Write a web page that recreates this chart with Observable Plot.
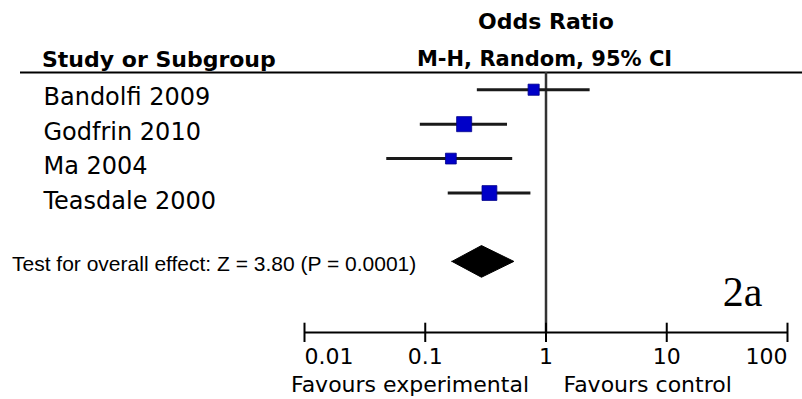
<!DOCTYPE html>
<html>
<head>
<meta charset="utf-8">
<script src="https://cdn.jsdelivr.net/npm/d3@7"></script>
<script src="https://cdn.jsdelivr.net/npm/@observablehq/plot@0.6"></script>
<style>
  html, body { margin: 0; padding: 0; background: #fff; }
  svg { display: block; }
</style>
</head>
<body>
<div id="chart"></div>
<script>
// ---- data ----
const studies = ["Bandolfi 2009", "Godfrin 2010", "Ma 2004", "Teasdale 2000"];
const oddsRatio = [0.79, 0.21, 0.163, 0.34];
const ciLower = [0.27, 0.091, 0.048, 0.155];
const ciUpper = [2.32, 0.48, 0.53, 0.75];
const weights = [18, 33, 17, 32];
const totalOR = 0.295;
const totalLower = 0.168;
const totalUpper = 0.547;
const tickValues = [0.01, 0.1, 1, 10, 100];
const tickLabels = ["0.01", "0.1", "1", "10", "100"];
const headerStudy = "Study or Subgroup";
const headerOR = "Odds Ratio";
const headerMethod = "M-H, Random, 95% CI";
const overallTest = "Test for overall effect: Z = 3.80 (P = 0.0001)";
const favoursLeft = "Favours experimental";
const favoursRight = "Favours control";
const panelLabel = "2a";

// ---- layout ----
const yTop = -0.5, yAxis = 7.05;
const totalRow = studies.length + 1;
const rows = studies.map((s, i) => ({study: s, i, or: oddsRatio[i], lo: ciLower[i], hi: ciUpper[i], w: weights[i]}));
const dh = 0.46;
const diamond = [
  {x: totalLower, y1: totalRow, y2: totalRow},
  {x: totalOR, y1: totalRow - dh, y2: totalRow + dh},
  {x: totalUpper, y1: totalRow, y2: totalRow}
];
const ticks = tickValues.map((v, i) => ({v, label: tickLabels[i], i}));
const sans = "DejaVu Sans, Verdana, sans-serif";
const mid = {lineAnchor: "middle"};

const chart = Plot.plot({
  width: 802,
  height: 399,
  marginLeft: 304,
  marginRight: 15,
  marginTop: 72,
  marginBottom: 67,
  style: {background: "#fff", color: "#000"},
  x: {type: "log", domain: [0.01, 100], axis: null},
  y: {type: "linear", domain: [yTop, yAxis], reverse: true, axis: null},
  r: {type: "sqrt", domain: [0, 33], range: [0, 8.5]},
  marks: [
    // header rule
    Plot.ruleY([yTop], {stroke: "#000", strokeWidth: 2, insetLeft: -284, insetRight: -15}),
    // null line
    Plot.ruleX([1], {stroke: "#333", strokeWidth: 2.5}),
    // axis
    Plot.ruleY([yAxis], {stroke: "#000", strokeWidth: 2}),
    Plot.ruleX(ticks, {x: "v", y1: yAxis - 0.27, y2: yAxis + 0.29, stroke: "#000", strokeWidth: 2}),
    Plot.text(ticks.filter(d => d.i === 0), {...mid, x: "v", text: "label", frameAnchor: "bottom", textAnchor: "start", dy: 24, fontSize: 22, fontFamily: sans}),
    Plot.text(ticks.filter(d => d.i > 0 && d.i < ticks.length - 1), {...mid, x: "v", text: "label", frameAnchor: "bottom", textAnchor: "middle", dy: 24, fontSize: 22, fontFamily: sans}),
    Plot.text(ticks.filter(d => d.i === ticks.length - 1), {...mid, x: "v", text: "label", frameAnchor: "bottom", textAnchor: "end", dy: 24, fontSize: 22, fontFamily: sans}),
    Plot.text([favoursLeft], {...mid, x: 1, text: d => d, frameAnchor: "bottom", textAnchor: "end", dx: -17, dy: 52.5, fontSize: 22, fontFamily: sans}),
    Plot.text([favoursRight], {...mid, x: 1, text: d => d, frameAnchor: "bottom", textAnchor: "start", dx: 17.5, dy: 52.5, fontSize: 22, fontFamily: sans}),
    // headers
    Plot.text([headerOR], {...mid, x: 1, text: d => d, frameAnchor: "top", textAnchor: "middle", dy: -51, fontSize: 22, fontWeight: "bold", fontFamily: sans}),
    Plot.text([headerMethod], {...mid, x: 1, text: d => d, frameAnchor: "top", textAnchor: "middle", dx: -1.5, dy: -13.7, fontSize: 21, fontWeight: "bold", fontFamily: sans}),
    Plot.text([headerStudy], {...mid, text: d => d, frameAnchor: "top-left", textAnchor: "start", dx: -262.5, dy: -13, fontSize: 22, fontWeight: "bold", fontFamily: sans}),
    // study names
    Plot.text(rows, {...mid, y: "i", text: "study", frameAnchor: "left", textAnchor: "start", dx: -261, dy: 8, fontSize: 24, fontFamily: sans}),
    // confidence intervals
    Plot.ruleY(rows, {y: "i", x1: "lo", x2: "hi", stroke: "#1a1a1a", strokeWidth: 3}),
    Plot.dot(rows, {y: "i", x: "or", r: "w", symbol: "square", fill: "#0000c8", stroke: "#00008a", strokeWidth: 0.8}),
    // overall
    Plot.areaY(diamond, {x: "x", y1: "y1", y2: "y2", fill: "#000", stroke: "#000", strokeWidth: 1}),
    Plot.text([overallTest], {...mid, y: totalRow, text: d => d, frameAnchor: "left", textAnchor: "start", dx: -292.5, dy: 2, fontSize: 21, fontFamily: "Liberation Sans, Arial, sans-serif"}),
    // panel label
    Plot.text([panelLabel], {...mid, text: d => d, frameAnchor: "bottom-right", textAnchor: "end", dx: -25, dy: -40.4, fontSize: 42, fontFamily: "Liberation Serif, Times New Roman, serif"})
  ]
});
document.getElementById("chart").appendChild(chart);
</script>
</body>
</html>
